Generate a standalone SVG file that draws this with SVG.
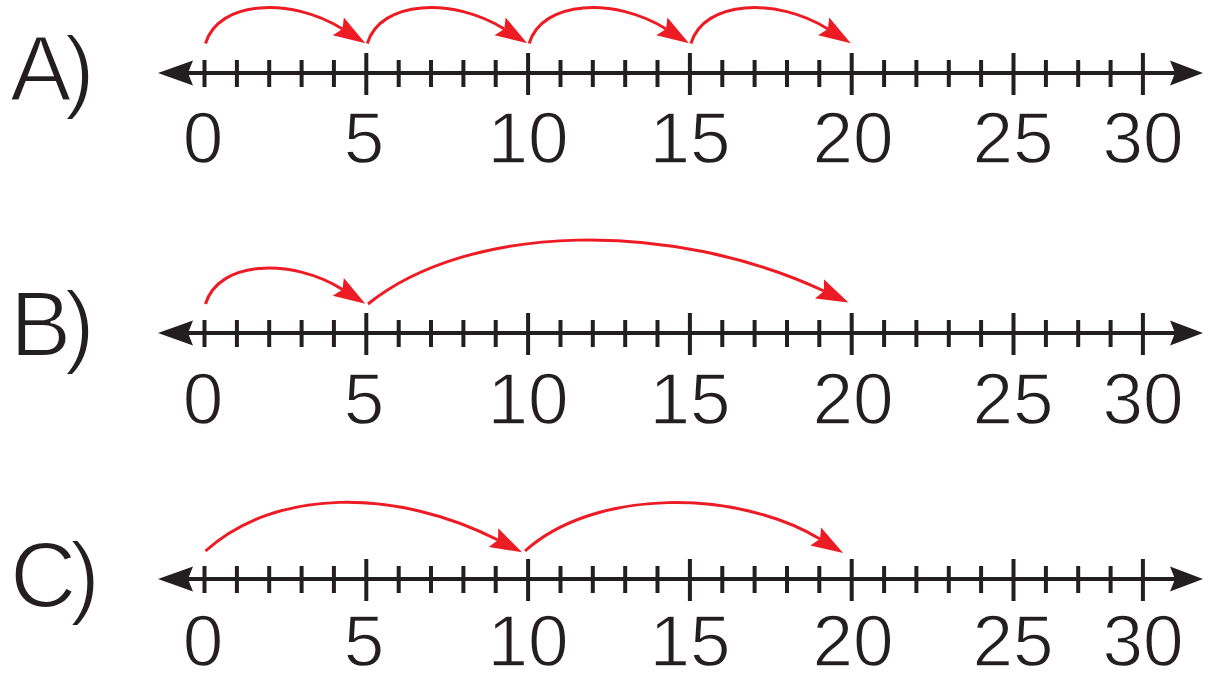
<svg xmlns="http://www.w3.org/2000/svg" xmlns:xlink="http://www.w3.org/1999/xlink" width="1215" height="682" viewBox="0 0 1215 682">
<style>
.axis{stroke:#231f20;stroke-width:4;fill:none}
.tick{stroke:#231f20;stroke-width:4;fill:none}
.head{fill:#231f20}
.num{font-family:"Liberation Sans",Arial,sans-serif;font-size:73px;fill:#231f20;text-anchor:middle;stroke:#fff;stroke-width:1.4px;paint-order:fill stroke}
.lab{font-family:"Liberation Sans",Arial,sans-serif;font-size:92px;fill:#231f20;letter-spacing:-7px;stroke:#fff;stroke-width:2px;paint-order:fill stroke}
.jump{stroke:#ed1c24;stroke-width:3;fill:none;marker-end:url(#ah)}
</style>
<defs>
<marker id="ah" markerUnits="userSpaceOnUse" viewBox="-6 -12 34 24" markerWidth="34" markerHeight="24" refX="0" refY="0" orient="auto" overflow="visible">
<path d="M-5,-10.5 L27,0 L-5,10.5 L0,0 Z" fill="#ed1c24"/>
</marker>
<g id="numberline">
<line class="axis" x1="180" y1="0" x2="1180" y2="0"/>
<path class="head" d="M158,0 L193,-12.5 L188,0 L193,12.5 Z"/>
<path class="head" d="M1203,0 L1170,-12.5 L1175,0 L1170,12.5 Z"/>
<path class="tick" d="M236.9,-13V14M269.2,-13V14M301.6,-13V14M333.9,-13V14M398.7,-13V14M431,-13V14M463.4,-13V14M495.7,-13V14M560.5,-13V14M592.8,-13V14M625.2,-13V14M657.5,-13V14M722.3,-13V14M754.6,-13V14M787,-13V14M819.3,-13V14M884.1,-13V14M916.4,-13V14M948.8,-13V14M981.1,-13V14M1045.9,-13V14M1078.2,-13V14M1110.6,-13V14"/>
<path class="tick" d="M204.5,-13V14M366.3,-20V22M528.1,-20V22M689.9,-20V22M851.7,-20V22M1013.5,-20V22M1142.9,-20V22"/>
</g>
</defs>

<g id="row-A">
<text class="lab" x="10" y="101">A)</text>
<use xlink:href="#numberline" href="#numberline" y="73"/>
<g class="nums">
<text class="num" x="203" y="163">0</text>
<text class="num" x="364" y="163">5</text>
<text class="num" x="528" y="163">10</text>
<text class="num" x="690" y="163">15</text>
<text class="num" x="853" y="163">20</text>
<text class="num" x="1013" y="163">25</text>
<text class="num" x="1143" y="163">30</text>
</g>
</g>

<g id="row-B">
<text class="lab" x="10" y="356">B)</text>
<use xlink:href="#numberline" href="#numberline" y="333"/>
<g class="nums">
<text class="num" x="203" y="424">0</text>
<text class="num" x="364" y="424">5</text>
<text class="num" x="528" y="424">10</text>
<text class="num" x="690" y="424">15</text>
<text class="num" x="853" y="424">20</text>
<text class="num" x="1013" y="424">25</text>
<text class="num" x="1143" y="424">30</text>
</g>
</g>

<g id="row-C">
<text class="lab" x="10" y="607">C)</text>
<use xlink:href="#numberline" href="#numberline" y="579"/>
<g class="nums">
<text class="num" x="203" y="666">0</text>
<text class="num" x="364" y="666">5</text>
<text class="num" x="528" y="666">10</text>
<text class="num" x="690" y="666">15</text>
<text class="num" x="853" y="666">20</text>
<text class="num" x="1013" y="666">25</text>
<text class="num" x="1143" y="666">30</text>
</g>
</g>

<g id="connectors">
<path class="jump" d="M205.5,43.5 C218.5,0 291.5,-3 342.5,29"/>
<path class="jump" d="M367.3,43.5 C380.3,0 453.3,-3 504.3,29"/>
<path class="jump" d="M529.1,43.5 C542.1,0 615.1,-3 666.1,29"/>
<path class="jump" d="M690.9,43.5 C703.9,0 776.9,-3 827.9,29"/>
<path class="jump" d="M205.5,304 C218.5,260.5 291.5,257.5 342.5,289.5"/>
<path class="jump" d="M368,304 C470,222 672,220 824,291"/>
<path class="jump" d="M205.5,551 C275,488 396,488 498,540"/>
<path class="jump" d="M525,551 C595,488 737,489 820,539"/>
</g>
</svg>
